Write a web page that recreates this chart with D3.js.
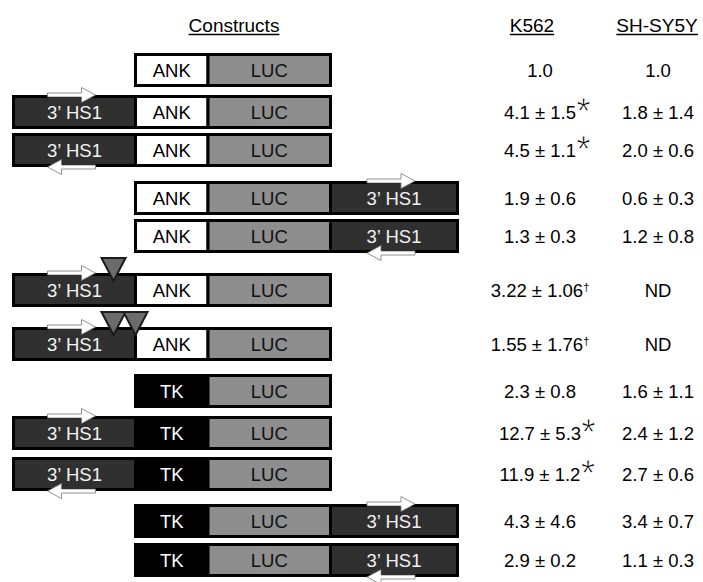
<!DOCTYPE html>
<html>
<head>
<meta charset="utf-8">
<script src="https://cdn.jsdelivr.net/npm/d3@7"></script>
<style>
  body { margin: 0; background: #fff; }
  text { font-family: "Liberation Sans", Arial, sans-serif; }
</style>
</head>
<body>
<div id="chart"></div>
<script>
// construct layout: slot 0 = 5' enhancer, 1 = promoter, 2 = reporter, 3 = 3' enhancer
const constructs = [
    [null, "ANK", "LUC", null],
    ["HS1", "ANK", "LUC", null],
    ["HS1", "ANK", "LUC", null],
    [null, "ANK", "LUC", "HS1"],
    [null, "ANK", "LUC", "HS1"],
    ["HS1", "ANK", "LUC", null],
    ["HS1", "ANK", "LUC", null],
    [null, "TK", "LUC", null],
    ["HS1", "TK", "LUC", null],
    ["HS1", "TK", "LUC", null],
    [null, "TK", "LUC", "HS1"],
    [null, "TK", "LUC", "HS1"]
];
const orientation = [null, "fwd", "rev", "fwd", "rev", "fwd", "fwd", null, "fwd", "rev", "fwd", "rev"];
// mutated sites, in slot units
const mutationSites = [[], [], [], [], [], [0.82], [0.82, 1.0], [], [], [], [], []];

const k562Mean = ["1.0", "4.1", "4.5", "1.9", "1.3", "3.22", "1.55", "2.3", "12.7", "11.9", "4.3", "2.9"];
const k562Err  = [null, "1.5", "1.1", "0.6", "0.3", "1.06", "1.76", "0.8", "5.3", "1.2", "4.6", "0.2"];
const k562Mark = ["", "*", "*", "", "", "†", "†", "", "*", "*", "", ""];
const shsyMean = ["1.0", "1.8", "2.0", "0.6", "1.2", "ND", "ND", "1.6", "2.4", "2.7", "3.4", "1.1"];
const shsyErr  = [null, "1.4", "0.6", "0.3", "0.8", null, null, "1.1", "1.2", "0.6", "0.7", "0.3"];

const headers = ["Constructs", "K562", "SH-SY5Y"];
const elementLabel = { HS1: "3\u2019 HS1", ANK: "ANK", TK: "TK", LUC: "LUC" };

const width = 703, height = 582;
const rowH = 34;

const fill = { HS1: "#303030", ANK: "#ffffff", TK: "#000000", LUC: "#8e8e8e" };
const textFill = { HS1: "#f2f2f2", ANK: "#000", TK: "#fff", LUC: "#111" };

const svg = d3.select("#chart")
    .append("svg")
    .attr("width", width)
    .attr("height", height);

// slot scale (piecewise, each slot has its own width)
const x = d3.scaleLinear().domain([0, 1, 2, 3, 4]).range([13.5, 135.5, 208, 330.5, 457.5]);
// row tops (rows are grouped, so spacing is uneven)
const y = d3.scaleLinear()
    .domain(d3.range(12))
    .range([53, 95, 133, 181, 219, 273, 327, 374, 416, 457, 504, 543]);

const colX = d3.scaleOrdinal().domain(headers).range([234, 540, 658]);
const headerX = d3.scaleOrdinal().domain(headers).range([234, 532, 657]);

// headers, underlined
headers.forEach(h => {
    const t = svg.append("text")
        .attr("x", headerX(h))
        .attr("y", 32)
        .attr("text-anchor", "middle")
        .attr("font-size", 19)
        .attr("fill", "#000")
        .text(h);
    const bb = t.node().getBBox();
    svg.append("line")
        .attr("x1", bb.x).attr("x2", bb.x + bb.width)
        .attr("y1", 34.5).attr("y2", 34.5)
        .attr("stroke", "#000").attr("stroke-width", 1.3);
});

const rows = svg.selectAll(".row")
    .data(constructs)
    .join("g")
    .attr("class", "row")
    .attr("transform", (d, i) => `translate(0,${y(i)})`);

// element boxes
rows.each(function(d, i) {
    const g = d3.select(this);
    const segs = d.map((e, s) => ({ e, s })).filter(o => o.e);
    g.selectAll("rect.el")
        .data(segs)
        .join("rect")
        .attr("class", "el")
        .attr("x", o => x(o.s))
        .attr("y", 1.5)
        .attr("width", o => x(o.s + 1) - x(o.s))
        .attr("height", rowH - 3)
        .attr("fill", o => fill[o.e])
        .attr("stroke", "#000")
        .attr("stroke-width", 3);

    g.selectAll("text.el")
        .data(segs)
        .join("text")
        .attr("class", "el")
        .attr("x", o => (x(o.s) + x(o.s + 1)) / 2)
        .attr("y", rowH / 2 + 6.5)
        .attr("text-anchor", "middle")
        .attr("font-size", 18.5)
        .attr("fill", o => textFill[o.e])
        .text(o => elementLabel[o.e]);

    // orientation arrow on the HS1 element
    const dir = orientation[i];
    if (dir) {
        const s = d.indexOf("HS1");
        const cx = (x(s) + x(s + 1)) / 2 - 3;
        const yy = dir === "fwd" ? 0 : rowH;
        const k = dir === "fwd" ? 1 : -1;
        const pts = [
            [-24, -2], [10, -2], [10, -7.5], [24, 0], [10, 7.5], [10, 2], [-24, 2]
        ].map(([px, py]) => [cx + k * px, yy + py]);
        g.append("path")
            .attr("d", d3.line()(pts) + "Z")
            .attr("fill", "#fff")
            .attr("stroke", "#777")
            .attr("stroke-width", 0.8);
    }

    // mutated sites
    g.selectAll("path.site")
        .data(mutationSites[i])
        .join("path")
        .attr("class", "site")
        .attr("d", t => `M${x(t) - 12},-15 L${x(t) + 12},-15 L${x(t)},8 Z`)
        .attr("fill", "#6b6b6b")
        .attr("stroke", "#1c1c1c")
        .attr("stroke-width", 2);
});

// values
rows.each(function(d, i) {
    const g = d3.select(this);
    const base = rowH / 2 + 6.5;
    const mark = k562Mark[i];
    const t = g.append("text")
        .attr("x", colX("K562"))
        .attr("y", base)
        .attr("text-anchor", "middle")
        .attr("font-size", 18.5)
        .text(k562Err[i] ? `${k562Mean[i]} ± ${k562Err[i]}` : k562Mean[i]);
    if (mark === "†") {
        t.append("tspan")
            .attr("font-size", 11)
            .attr("dy", -6)
            .text("†");
    } else if (mark === "*") {
        const bb = t.node().getBBox();
        g.append("text")
            .attr("x", bb.x + bb.width + 0.5)
            .attr("y", base + 5)
            .attr("font-size", 36)
            .attr("fill", "#000")
            .attr("stroke", "#fff")
            .attr("stroke-width", 0.8)
            .text("*");
    }

    g.append("text")
        .attr("x", colX("SH-SY5Y"))
        .attr("y", base)
        .attr("text-anchor", "middle")
        .attr("font-size", 18.5)
        .text(shsyErr[i] ? `${shsyMean[i]} ± ${shsyErr[i]}` : shsyMean[i]);
});
</script>
</body>
</html>
